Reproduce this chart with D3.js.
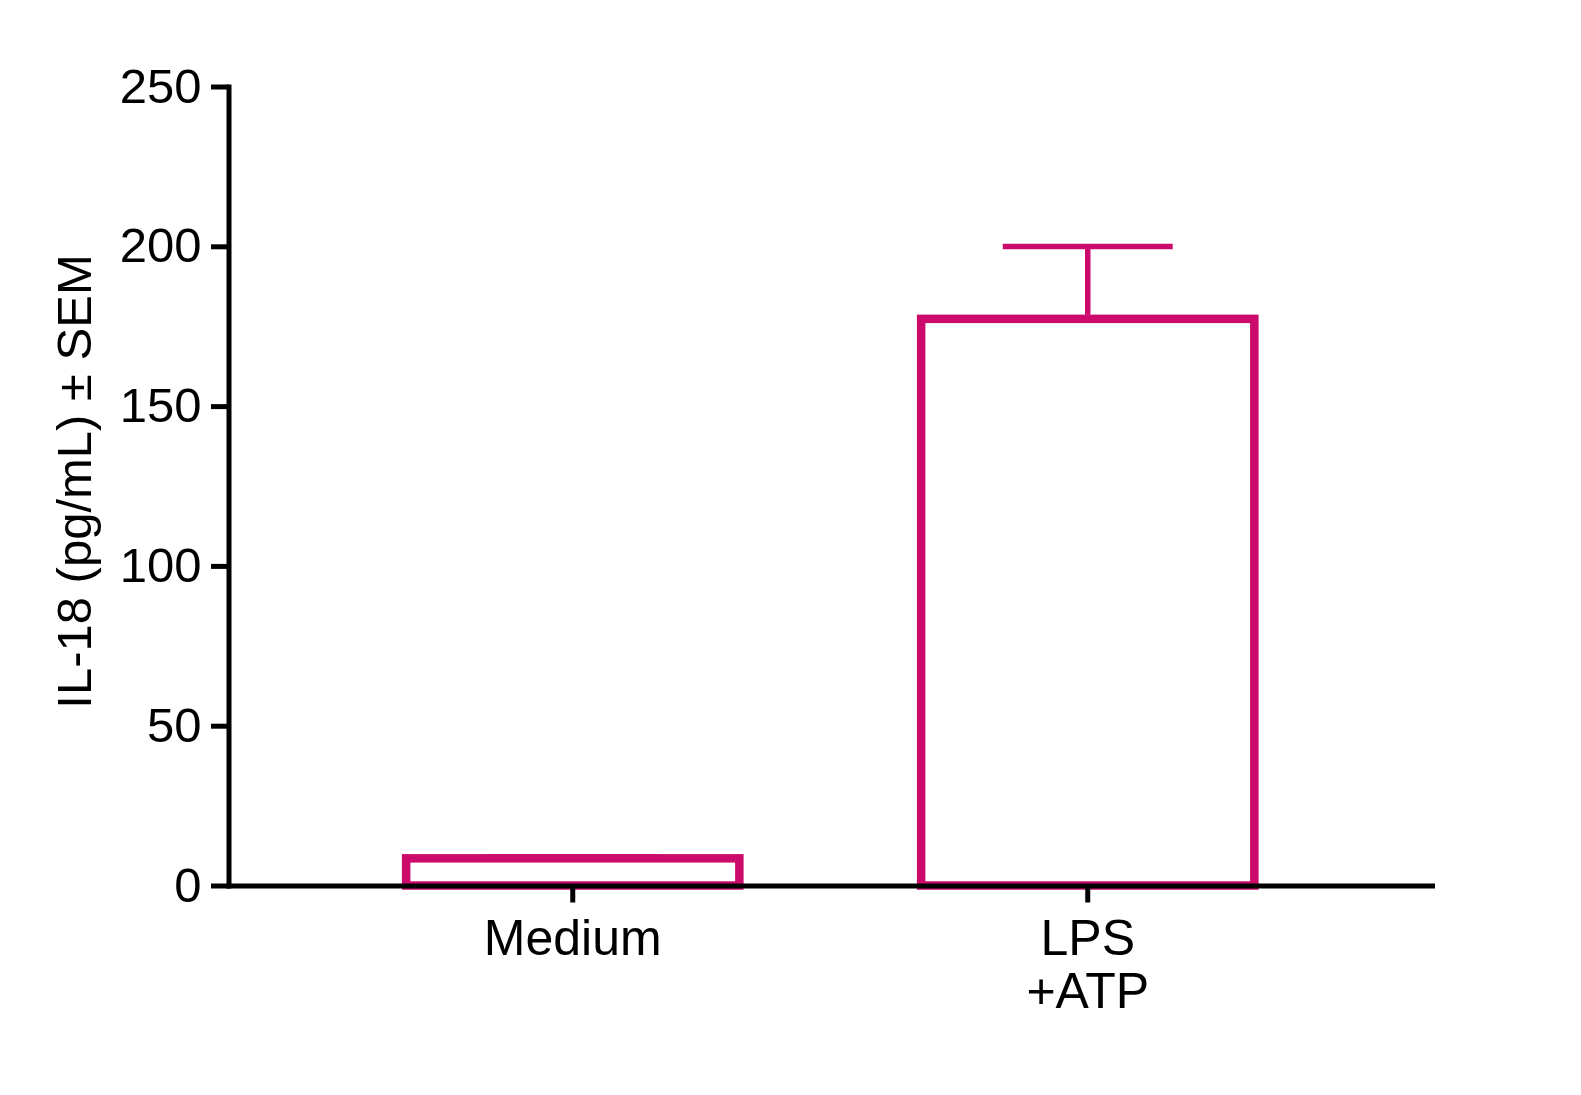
<!DOCTYPE html>
<html lang="en">
<head>
  <meta charset="UTF-8">
  <title>IL-18</title>
  <script src="https://d3js.org/d3.v7.min.js"></script>
  <style>
    body { margin: 0; background: #fff; }
    svg { display: block; font-family: "Liberation Sans", Arial, sans-serif; }
  </style>
</head>
<body>
  <svg id="chart" width="1581" height="1095"></svg>
  <script>
    // values
    const categories = ["Medium", "LPS\n+ATP"];
    const means = [8.5, 177.3];
    const sems = [0.4, 22.6];
    const yTicks = [0, 50, 100, 150, 200, 250];

    const pink = "#cc0a6c";
    const svg = d3.select("#chart");

    const plotL = 228.5, plotR = 1432, plotT = 86.5, plotB = 885.5;

    const x = d3.scaleBand()
      .domain(categories)
      .range([plotL, plotR])
      .paddingInner(0.353)
      .paddingOuter(0.345);

    const y = d3.scaleLinear()
      .domain([0, 250])
      .range([plotB, plotT]);

    const data = categories.map((c, i) => ({ cat: c, mean: means[i], sem: sems[i] }));

    // bars (open, coloured outline)
    svg.append("g").selectAll("rect")
      .data(data)
      .enter().append("rect")
      .attr("x", d => x(d.cat))
      .attr("y", d => y(d.mean))
      .attr("width", x.bandwidth())
      .attr("height", d => y(0) - y(d.mean))
      .attr("fill", "#fff")
      .attr("stroke", pink)
      .attr("stroke-width", 8.5);

    // error bars, upper half only
    const capW = x.bandwidth() * 0.51;
    const err = svg.append("g").selectAll("g")
      .data(data)
      .enter().append("g")
      .attr("stroke", pink)
      .attr("stroke-width", 5.5);
    err.append("line")
      .attr("x1", d => x(d.cat) + x.bandwidth() / 2)
      .attr("x2", d => x(d.cat) + x.bandwidth() / 2)
      .attr("y1", d => y(d.mean) - 4)
      .attr("y2", d => y(d.mean + d.sem));
    err.append("line")
      .attr("x1", d => x(d.cat) + x.bandwidth() / 2 - capW / 2)
      .attr("x2", d => x(d.cat) + x.bandwidth() / 2 + capW / 2)
      .attr("y1", d => y(d.mean + d.sem))
      .attr("y2", d => y(d.mean + d.sem));

    // y axis
    const gy = svg.append("g")
      .attr("transform", `translate(${plotL},0)`)
      .call(d3.axisLeft(y).tickValues(yTicks).tickSize(17.5).tickSizeOuter(0).tickPadding(9.5));

    // x axis
    const gx = svg.append("g")
      .attr("transform", `translate(0,${plotB})`)
      .call(d3.axisBottom(x).tickSize(17).tickSizeOuter(0).tickFormat(""));

    [gx, gy].forEach(g => {
      g.select(".domain").attr("stroke", "#000").attr("stroke-width", 5).attr("stroke-linecap", "square");
      g.selectAll(".tick line").attr("stroke", "#000").attr("stroke-width", 5);
    });
    gy.selectAll(".tick text")
      .attr("fill", "#000")
      .style("font-size", "49px")
      .style("font-family", "'Liberation Sans', Arial, sans-serif");

    // multi-line category labels
    gx.selectAll(".tick").each(function (d) {
      const t = d3.select(this).append("text")
        .attr("fill", "#000")
        .attr("text-anchor", "middle")
        .style("font-size", "50px")
        .style("font-family", "'Liberation Sans', Arial, sans-serif");
      d.split("\n").forEach((line, i) => {
        t.append("tspan").attr("x", 0).attr("y", 69.5 + i * 53).text(line);
      });
    });

    // y axis title
    svg.append("text")
      .attr("transform", "translate(91,481.5) rotate(-90)")
      .attr("text-anchor", "middle")
      .attr("fill", "#000")
      .style("font-size", "49px")
      .text("IL-18 (pg/mL) \u00b1 SEM");
  </script>
</body>
</html>
